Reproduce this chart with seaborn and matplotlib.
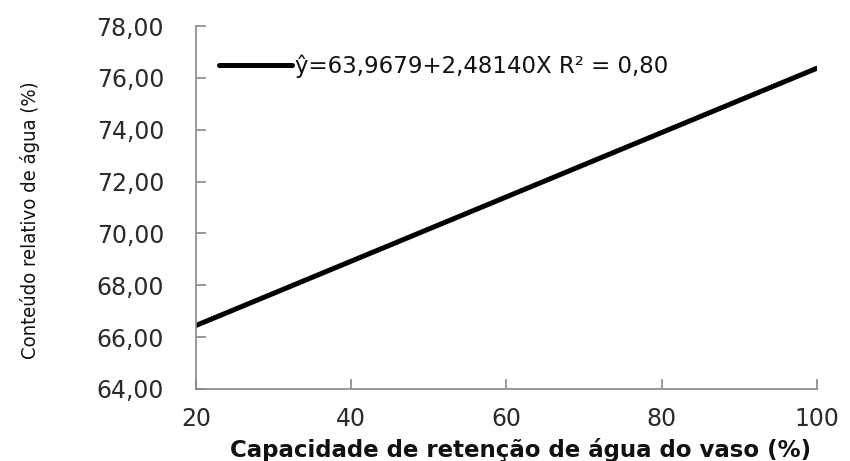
import matplotlib
matplotlib.use("Agg")
import matplotlib.pyplot as plt
from matplotlib import font_manager
import seaborn as sns
import pandas as pd

# Water-holding capacity of the pot (%) and fitted relative water content (%)
capacidade = [20, 40, 60, 80, 100]
conteudo = [66.45, 68.93, 71.41, 73.89, 76.37]
equacao = "ŷ=63,9679+2,48140X R² = 0,80"

y_ticks = [64, 66, 68, 70, 72, 74, 76, 78]
x_ticks = [20, 40, 60, 80, 100]

sns.set_theme(style="white")
plt.rcParams["font.family"] = ["DejaVu Sans"]

# pick a narrow face for the vertical axis title if one is installed
names = {f.name for f in font_manager.fontManager.ttflist}
narrow = "Liberation Sans Narrow" if "Liberation Sans Narrow" in names else None

df = pd.DataFrame({"x": capacidade, "y": conteudo})

fig = plt.figure(figsize=(8.5, 4.61), dpi=100)
ax = fig.add_axes([0.2306, 0.1562, 0.7304, 0.7874])

sns.lineplot(data=df, x="x", y="y", ax=ax, color="black", linewidth=3.6,
             label=equacao)

ax.set_xlim(20, 100)
ax.set_ylim(64, 78)
ax.set_xticks(x_ticks)
ax.set_yticks(y_ticks)
ax.set_xticklabels([str(v) for v in x_ticks])
ax.set_yticklabels([f"{v:.2f}".replace(".", ",") for v in y_ticks])

for side in ["top", "right"]:
    ax.spines[side].set_visible(False)
for side in ["left", "bottom"]:
    ax.spines[side].set_color("#888888")
    ax.spines[side].set_linewidth(1.2)

ax.tick_params(axis="both", direction="in", length=7, width=1.2,
               bottom=True, left=True,
               color="#888888", labelsize=17, labelcolor="#2a2a2a")
ax.tick_params(axis="y", pad=23)
ax.tick_params(axis="x", pad=13)

ax.set_xlabel("Capacidade de retenção de água do vaso (%)", fontsize=16.5,
              fontweight="bold", color="#111111")
ax.xaxis.set_label_coords(0.523, -0.134)

if narrow:
    ax.set_ylabel("Conteúdo relativo de água (%)", fontsize=17,
                  family=[narrow, "DejaVu Sans"], color="#111111")
else:
    ax.set_ylabel("Conteúdo relativo de água (%)", fontsize=14.5,
                  family=["DejaVu Sans"], fontstretch="condensed",
                  color="#111111")
ax.yaxis.set_label_coords(-0.252, 0.466)

leg = ax.legend(loc="upper left", frameon=False, fontsize=16.5,
                handlelength=3.2, handletextpad=0.1,
                bbox_to_anchor=(0.0, 0.985), borderaxespad=0.6)
for t in leg.get_texts():
    t.set_family(["DejaVu Sans"])
    t.set_color("#111111")

fig.savefig("out.png", dpi=100, facecolor="white")
